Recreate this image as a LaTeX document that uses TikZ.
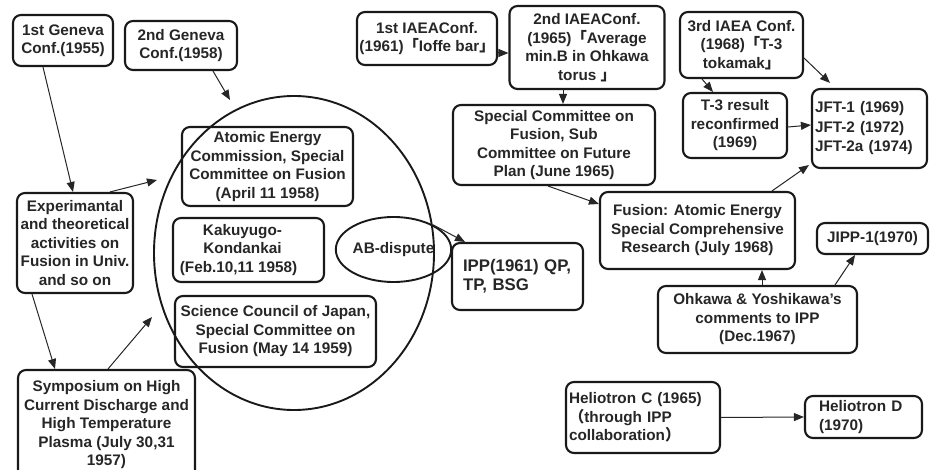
\documentclass[tikz,border=0pt]{standalone}
\usepackage{fontspec}
\setmainfont{Liberation Sans}
\newfontfamily\cjk{Noto Sans CJK JP}
\usetikzlibrary{shapes.geometric,arrows.meta}
\begin{document}
\begin{tikzpicture}[x=1pt,y=-1pt,
  box/.style={draw=black!90,line width=2.1pt,rounded corners=8pt,align=center,inner sep=0pt,
    text=black!85,font=\fontsize{15.3}{18.5}\selectfont\bfseries},
  lbox/.style={box,align=left},
  arr/.style={-{Triangle[length=10pt,width=8pt]},line width=1pt,draw=black!85},
  ring/.style={draw=black!90,line width=1.9pt,ellipse,inner sep=0pt}]
\useasboundingbox (0,0) rectangle (931,470);

% big circle
\node[ring,minimum width=280pt,minimum height=314pt] (circ) at (294,253) {};
\coordinate (c1) at (230,100);
\coordinate (c2) at (157,180);
\coordinate (c3) at (152,317);

% left side
\node[box,minimum width=100pt,minimum height=51pt] (g1) at (63,40.5) {1st Geneva\\Conf.(1955)};
\node[box,minimum width=112pt,minimum height=49pt] (g2) at (181,45.5) {2nd Geneva\\Conf.(1958)};
\node[box,minimum width=116pt,minimum height=100pt] (exp) at (75,243) {Experimantal\\and theoretical\\activities on\\Fusion in Univ.\\and so on};
\node[box,minimum width=177pt,minimum height=110pt] (sym) at (106.5,425) {Symposium on High\\Current Discharge and\\High Temperature\\Plasma (July 30,31\\1957)};

% inside the circle
\node[box,minimum width=171pt,minimum height=79pt] (aec) at (267.5,166.5) {Atomic Energy\\Commission, Special\\Committee on Fusion\\(April 11 1958)};
\node[box,minimum width=151pt,minimum height=64pt] (kak) at (248.5,250) {\hspace*{-12pt}Kakuyugo-\\\hspace*{-12pt}Kondankai\\\hspace*{-20pt}(Feb.10,11 1958)};
\node[box,minimum width=201pt,minimum height=71pt] (sci) at (275.5,331.5) {Science Council of Japan,\\Special Committee on\\Fusion (May 14 1959)};
\node[ring,minimum width=103pt,minimum height=65pt,text=black!85,font=\fontsize{15.3}{18.5}\selectfont\bfseries] (ab) at (393.5,249.5) {AB-dispute};

% IPP
\node[lbox,text width=121pt,inner xsep=5pt,minimum height=67pt,font=\fontsize{16.8}{19}\selectfont\bfseries] (ipp) at (517.5,276.5) {\hspace*{6pt}IPP(1961) QP,\\\hspace*{6pt}TP, BSG};

% top right
\node[box,minimum width=140pt,minimum height=53pt] (i1) at (427,38.5) {1st IAEAConf.\\(1961){\cjk 「}Ioffe bar{\cjk 」}};
\node[box,minimum width=155pt,minimum height=83pt] (i2) at (587,47.5) {2nd IAEAConf.\\(1965){\cjk 「}Average\\min.B in Ohkawa\\torus {\cjk 」}};
\node[box,minimum width=202pt,minimum height=80pt] (sc) at (554,145) {Special Committee on\\Fusion, Sub\\Committee on Future\\Plan (June 1965)};
\node[box,minimum width=123pt,minimum height=66pt] (i3) at (741.5,45) {3rd IAEA Conf.\\(1968){\cjk 「}T-3\\tokamak{\cjk 」}};
\node[box,minimum width=104pt,minimum height=65pt] (t3) at (735,125.5) {T-3 result\\reconfirmed\\(1969)};
\node[lbox,text width=109pt,inner xsep=3pt,minimum height=79pt,font=\fontsize{15.3}{19.5}\selectfont\bfseries] (jft) at (869.5,128.5) {JFT-1 (1969)\\JFT-2 (1972)\\JFT-2a (1974)};
\node[box,minimum width=195pt,minimum height=77pt] (fae) at (697.5,230.5) {Fusion: Atomic Energy\\Special Comprehensive\\Research (July 1968)};
\node[box,minimum width=111pt,minimum height=31pt] (jipp) at (872.5,238.5) {JIPP-1(1970)};
\node[box,minimum width=199pt,minimum height=67pt] (ohk) at (757.5,319.5) {Ohkawa \& Yoshikawa's\\comments to IPP\\(Dec.1967)};

% Heliotron
\node[lbox,text width=148pt,inner xsep=3pt,minimum height=71pt] (helc) at (643,417.5) {Heliotron C (1965)\\{\cjk （}through IPP\\collaboration{\cjk ）}};
\node[lbox,text width=89pt,inner xsep=14pt,minimum height=42pt] (held) at (863.5,417) {Heliotron D\\(1970)};

% connectors
\draw[arr] ([xshift=-20pt]g1.south) -- ([xshift=-2pt]exp.north);
\draw[arr] ([xshift=32pt]g2.south) -- (c1);
\draw[arr] ([xshift=35pt]exp.north) -- (c2);
\draw[arr] ([xshift=-43pt]exp.south) -- ([xshift=-51.5pt]sym.north);
\draw[arr] ([xshift=1.5pt]sym.north) -- (c3);
\draw[arr] (ab.32) -- ([xshift=-52.5pt]ipp.north);
\draw[arr] ([yshift=-14.5pt]i1.east) -- ([yshift=-5.5pt]i2.west);
\draw[arr] ([xshift=-24pt]i2.south) -- ([xshift=9pt]sc.north);
\draw[arr] ([xshift=-39.5pt]i3.south) -- ([xshift=-22pt]t3.north);
\draw[arr] ([xshift=61.5pt,yshift=22pt]i3.south) -- ([xshift=-39.5pt,yshift=5pt]jft.north);
\draw[arr] ([yshift=-1.5pt]t3.east) -- ([yshift=3.5pt]jft.west);
\draw[arr] ([xshift=74.5pt]fae.north) -- ([xshift=-2pt,yshift=4pt]jft.south west);
\draw[arr] ([xshift=-6pt]sc.south) -- ([yshift=26.5pt]fae.west);
\draw[arr] ([xshift=4.5pt]ohk.north) -- ([xshift=64.5pt]fae.south);
\draw[arr] ([xshift=77.5pt]ohk.north) -- ([xshift=-17.5pt]jipp.south);
\draw[arr] (helc.east) -- (held.west);
\end{tikzpicture}
\end{document}
